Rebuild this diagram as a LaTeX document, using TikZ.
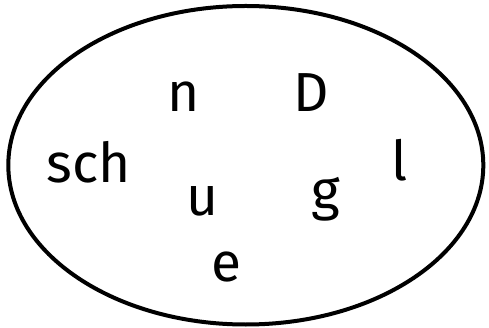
\documentclass[tikz,border=0pt]{standalone}
\usepackage{fontspec}
\setmainfont{Fira Sans}
\begin{document}
\begin{tikzpicture}[x=1pt,y=-1pt]
                    \useasboundingbox (0,0) rectangle (489,328);
                    \tikzset{letter/.style={anchor=base,inner sep=0pt,font=\fontsize{55}{60}\selectfont}}
                    \draw[line width=4pt] (245.8,165.25) ellipse (237.5 and 159.25);

                    \node[letter] (n) at (183.5,112) {n};
                    \node[letter] (D) at (311,112) {D};
                    \node[letter] (sch) at (89,183) {sch};
                    \node[letter] (l) at (400,181) {l};
                    \node[letter] (u) at (202.5,216) {u};
                    \node[letter] (g) at (326,210) {g};
                    \node[letter] (e) at (226,281) {e};
                \end{tikzpicture}
\end{document}
